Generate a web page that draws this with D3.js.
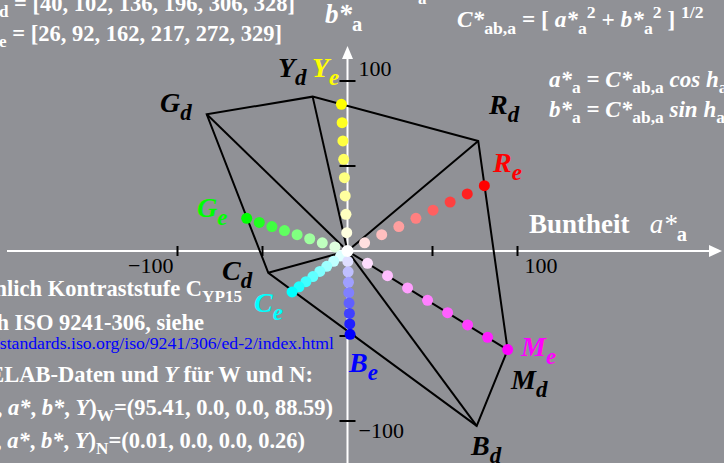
<!DOCTYPE html>
<html>
<head>
<meta charset="utf-8">
<script src="https://cdn.jsdelivr.net/npm/d3@7"></script>
<style>
  html, body { margin: 0; padding: 0; background: #909196; }
  svg text { font-family: "Liberation Serif", "Times New Roman", serif; white-space: pre; }
</style>
</head>
<body>
<div id="chart"></div>
<script>
// Farben in Hue-Reihenfolge: R, Y, G, C, B, M
var farben = ['R', 'Y', 'G', 'C', 'B', 'M'];

// dunkle Sechseck-Ecken (d), CIELAB a*, b*
var aDunkel = [76.9, -20.5, -82.8, -46.6, 76.0, 94.2];
var bDunkel = [64.7, 90.8, 80.4, -12.8, -102.9, -58.2];

// Elementarfarben (e), a*, b*
var aElem = [80.5, -3.6, -59.3, -32.6, 1.5, 94.2];
var bElem = [38.4, 86.3, 19.2, -24.1, -49.0, -58.0];
var elemFarbe = ['#ff0000', '#ffff00', '#00ff00', '#00ffff', '#0000ff', '#ff00ff'];

// Kontraststufen entlang jeder Speiche (Stufe / 8)
var stufen = [1, 2, 3, 4, 5, 6, 7, 8];

// Hue-Winkel (Text oben links)
var hDunkel = [40, 102, 136, 196, 306, 328];
var hElem = [26, 92, 162, 217, 272, 329];

var achsenTicks = [-100, -50, 50, 100];
var tickLabels = [-100, 100];

var w = 724;
var h = 463;

var xscale = d3.scaleLinear().domain([-100, 100]).range([177.5, 517.5]);
var yscale = d3.scaleLinear().domain([-100, 100]).range([421, 81]);
var x0 = xscale(0), y0 = yscale(0);

var svg = d3.select('#chart').append('svg')
            .attr('width', w)
            .attr('height', h);

svg.append('rect').attr('width', w).attr('height', h).attr('fill', '#909196');

// Text mit Sub-/Superskript aus Teilen bauen
function rich(x, y, parts, size, fill, anchor, subf) {
    subf = subf || 0.76;
    var t = svg.append('text')
               .attr('x', x).attr('y', y)
               .attr('font-size', size)
               .attr('font-weight', 'bold')
               .attr('fill', fill)
               .attr('text-anchor', anchor || 'start');
    var cur = 0;
    parts.forEach(function(p) {
        var kind = p[1] || 'n';
        var off = 0;
        if (kind == 'sub' || kind == 'isub') off = size * 0.28;
        if (kind == 'sup') off = -size * 0.38;
        var sp = t.append('tspan').attr('dy', off - cur).text(p[0]);
        cur = off;
        if (kind == 'i' || kind == 'isub') sp.attr('font-style', 'italic');
        if (kind == 'sub' || kind == 'isub' || kind == 'sup') sp.attr('font-size', size * subf);
        if (p[2]) sp.attr('font-weight', p[2]);
    });
    return t;
}

// Achsen (weiss) mit Pfeilen
svg.append('line')
   .attr('x1', 7).attr('x2', 712).attr('y1', y0).attr('y2', y0)
   .attr('stroke', '#fff').attr('stroke-width', 2);
svg.append('path')
   .attr('d', 'M' + 722 + ',' + y0 + 'L' + 709 + ',' + (y0 - 6) + 'L' + 709 + ',' + (y0 + 6) + 'Z')
   .attr('fill', '#fff');
svg.append('line')
   .attr('x1', x0).attr('x2', x0).attr('y1', 57).attr('y2', h)
   .attr('stroke', '#fff').attr('stroke-width', 2);
svg.append('path')
   .attr('d', 'M' + x0 + ',' + 46 + 'L' + (x0 - 5.5) + ',' + 59 + 'L' + (x0 + 5.5) + ',' + 59 + 'Z')
   .attr('fill', '#fff');

// dunkles Sechseck + Speichen
var dunkel = farben.map(function(f, i) { return [xscale(aDunkel[i]), yscale(bDunkel[i])]; });
svg.append('path')
   .attr('d', d3.line()(dunkel) + 'Z')
   .attr('fill', 'none').attr('stroke', '#000').attr('stroke-width', 2)
   .attr('stroke-linejoin', 'miter');
svg.selectAll('line.speiche')
   .data(dunkel)
   .enter()
   .append('line')
   .attr('class', 'speiche')
   .attr('x1', x0).attr('y1', y0)
   .attr('x2', function(d) { return d[0]; })
   .attr('y2', function(d) { return d[1]; })
   .attr('stroke', '#000').attr('stroke-width', 2);

// Ticks (schwarz)
svg.selectAll('line.xt')
   .data(achsenTicks).enter().append('line')
   .attr('x1', function(d) { return xscale(d); })
   .attr('x2', function(d) { return xscale(d); })
   .attr('y1', y0 - 5).attr('y2', y0 + 5)
   .attr('stroke', '#000').attr('stroke-width', 2);
svg.selectAll('line.yt')
   .data(achsenTicks).enter().append('line')
   .attr('x1', x0 - 8).attr('x2', x0 + 8)
   .attr('y1', function(d) { return yscale(d); })
   .attr('y2', function(d) { return yscale(d); })
   .attr('stroke', '#000').attr('stroke-width', 2);

var fmt = function(d) { return d < 0 ? '\u2212' + Math.abs(d) : '' + d; };
tickLabels.forEach(function(d) {
    svg.append('text')
       .attr('x', d < 0 ? xscale(d) - 4 : xscale(d) + 7)
       .attr('y', y0 + 22)
       .attr('text-anchor', d < 0 ? 'end' : 'start')
       .attr('font-size', 22).attr('fill', '#000')
       .text(fmt(d));
    svg.append('text')
       .attr('x', x0 + 11)
       .attr('y', d < 0 ? yscale(d) + 17 : yscale(d) - 5)
       .attr('font-size', 22).attr('fill', '#000')
       .text(fmt(d));
});

// Punkte der Elementarfarben
farben.forEach(function(f, i) {
    var col = d3.interpolateRgb('#ffffff', elemFarbe[i]);
    svg.append('g').selectAll('circle')
       .data(stufen)
       .enter()
       .append('circle')
       .attr('cx', function(s) { return xscale(aElem[i] * s / 8); })
       .attr('cy', function(s) { return yscale(bElem[i] * s / 8); })
       .attr('r', 5.5)
       .attr('fill', function(s) { return col(s / 8); });
});
svg.append('circle').attr('cx', x0).attr('cy', y0).attr('r', 6).attr('fill', '#fff');

// Beschriftung der Ecken
var LS = 28;
rich(278, 77, [['Y', 'i'], ['d', 'isub']], LS, '#000', 'start', 0.82);
rich(312, 77, [['Y', 'i'], ['e', 'isub']], LS, '#ffff00', 'start', 0.82);
rich(160, 112, [['G', 'i'], ['d', 'isub']], LS, '#000', 'start', 0.82);
rich(489, 114, [['R', 'i'], ['d', 'isub']], LS, '#000', 'start', 0.82);
rich(493, 172, [['R', 'i'], ['e', 'isub']], LS, '#ff0000', 'start', 0.82);
rich(197, 217, [['G', 'i'], ['e', 'isub']], LS, '#00ff00', 'start', 0.82);
rich(222, 280, [['C', 'i'], ['d', 'isub']], LS, '#000', 'start', 0.82);
rich(254, 312, [['C', 'i'], ['e', 'isub']], LS, '#00ffff', 'start', 0.82);
rich(349, 372, [['B', 'i'], ['e', 'isub']], LS, '#0000ff', 'start', 0.82);
rich(521, 356, [['M', 'i'], ['e', 'isub']], LS, '#ff00ff', 'start', 0.82);
rich(511, 389, [['M', 'i'], ['d', 'isub']], LS, '#000', 'start', 0.82);
rich(471, 455, [['B', 'i'], ['d', 'isub']], LS, '#000', 'start', 0.82);

// Achsentitel
rich(325, 23, [['b*', 'i'], ['a', 'sub']], 27, '#fff');
rich(529, 233, [['Buntheit   '], ['a*', 'i', 'normal'], ['a', 'sub']], 27, '#fff');
rich(418, 4, [['a']], 17, '#fff');

// Formeln oben rechts
rich(457, 27, [['C*', 'i'], ['ab,a', 'sub'], [' = [ '], ['a*', 'i'], ['a', 'sub'], ['2', 'sup'],
               [' + '], ['b*', 'i'], ['a', 'sub'], ['2', 'sup'], [' ] '], ['1/2', 'sup']], 23.3, '#fff');
rich(549, 87, [['a*', 'i'], ['a', 'sub'], [' = '], ['C*', 'i'], ['ab,a', 'sub'], [' cos h', 'i'], ['a', 'sub']], 23, '#fff');
rich(549, 117, [['b*', 'i'], ['a', 'sub'], [' = '], ['C*', 'i'], ['ab,a', 'sub'], [' sin h', 'i'], ['a', 'sub']], 23, '#fff');

// Hue-Listen oben links
rich(295, 11, [['h', 'i'], ['ab,d', 'sub'], [' = [' + hDunkel.join(', ') + ']']], 22.5, '#fff', 'end');
rich(282, 41, [['h', 'i'], ['ab,e', 'sub'], [' = [' + hElem.join(', ') + ']']], 22.5, '#fff', 'end');

// Block unten links
rich(242, 296, [['ähnlich Kontraststufe C'], ['YP15', 'sub']], 22.5, '#fff', 'end');
rich(204, 330, [['nach ISO 9241-306, siehe']], 22.5, '#fff', 'end');
svg.append('text')
   .attr('x', 334).attr('y', 349).attr('text-anchor', 'end')
   .attr('font-size', 17.7).attr('fill', '#0000ff')
   .text('http://standards.iso.org/iso/9241/306/ed-2/index.html');
rich(313, 382, [['CIELAB-Daten und '], ['Y', 'i'], [' für W und N:']], 22.5, '#fff', 'end');
rich(333, 415, [['('], ['L*', 'i'], [', '], ['a*', 'i'], [', '], ['b*', 'i'], [', '], ['Y', 'i'], [')'], ['W', 'sub'],
                ['=(95.41, 0.0, 0.0, 88.59)']], 22.5, '#fff', 'end');
rich(305, 448, [['('], ['L*', 'i'], [', '], ['a*', 'i'], [', '], ['b*', 'i'], [', '], ['Y', 'i'], [')'], ['N', 'sub'],
                ['=(0.01, 0.0, 0.0, 0.26)']], 22.5, '#fff', 'end');
</script>
</body>
</html>
